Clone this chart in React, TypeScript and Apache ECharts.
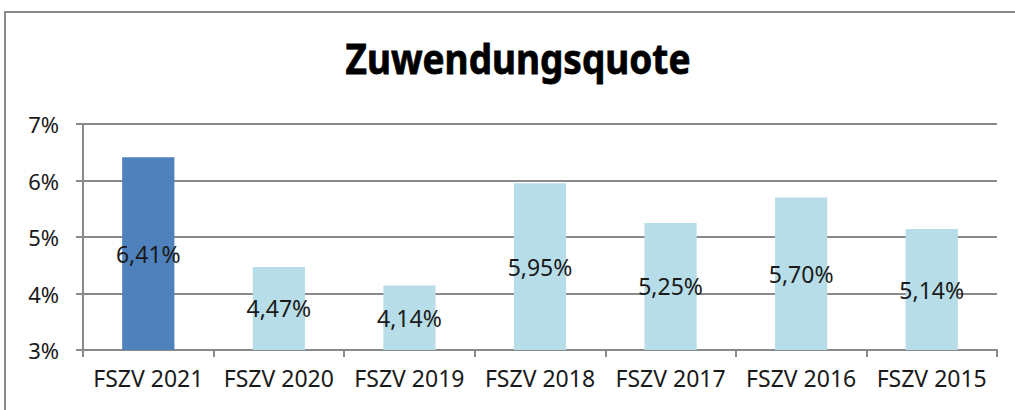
import React, { useEffect, useRef } from "react";
import * as echarts from "echarts";

const categories = ["FSZV 2021", "FSZV 2020", "FSZV 2019", "FSZV 2018", "FSZV 2017", "FSZV 2016", "FSZV 2015"];
const values = [6.41, 4.47, 4.14, 5.95, 5.25, 5.70, 5.14];
const highlightIndex = 0;
const titleText = "Zuwendungsquote";

const FONT = "'Noto Sans', 'Open Sans', sans-serif";

export default function App() {
  const ref = useRef<HTMLDivElement>(null);
  useEffect(() => {
    if (!ref.current) return;
    const chart = echarts.init(ref.current, undefined, { renderer: "svg" });
    chart.setOption({
      animation: false,
      backgroundColor: "#ffffff",
      graphic: [
        {
          type: "rect",
          shape: { x: 5, y: 12, width: 1100, height: 500 },
          style: { fill: "none", stroke: "#8a8a8a", lineWidth: 2 },
          silent: true,
        },
        {
          type: "text",
          x: 518,
          y: 58,
          scaleX: 0.88,
          style: {
            text: titleText,
            font: `bold 42px ${FONT}`,
            fill: "#000000",
            stroke: "#000000",
            lineWidth: 0.8,
            textAlign: "center",
            textVerticalAlign: "middle",
          },
        },
      ],
      grid: { left: 83, right: 18, top: 124, bottom: 60, containLabel: false },
      xAxis: {
        type: "category",
        data: categories,
        axisLine: { show: true, lineStyle: { color: "#8a8a8a", width: 2 } },
        axisTick: { show: true, alignWithLabel: false, length: 7, lineStyle: { color: "#8a8a8a", width: 2 } },
        axisLabel: { color: "#1a1a1a", fontSize: 23, fontFamily: FONT, margin: 16, interval: 0 },
        splitLine: { show: false },
      },
      yAxis: {
        type: "value",
        min: 3,
        max: 7,
        interval: 1,
        axisLine: { show: true, lineStyle: { color: "#8a8a8a", width: 2 } },
        axisTick: { show: true, length: 7, lineStyle: { color: "#8a8a8a", width: 2 } },
        axisLabel: {
          color: "#1a1a1a",
          fontSize: 22,
          fontFamily: FONT,
          margin: 24,
          formatter: (v: number) => `${v}%`,
        },
        splitLine: { show: true, lineStyle: { color: "#8a8a8a", width: 2 } },
      },
      series: [
        {
          type: "bar",
          barWidth: "40%",
          data: values.map((v, i) => ({
            value: v,
            itemStyle: { color: i === highlightIndex ? "#4F81BD" : "#B7DEE8" },
          })),
          label: {
            show: true,
            position: "inside",
            color: "#1a1a1a",
            fontSize: 23,
            fontFamily: FONT,
            formatter: (p: any) => `${p.value.toFixed(2).replace(".", ",")}%`,
          },
        },
      ],
    });
    return () => chart.dispose();
  }, []);
  return (
    <div
      ref={ref}
      style={{ position: "absolute", left: 0, top: 0, width: 1015, height: 410 }}
    />
  );
}
